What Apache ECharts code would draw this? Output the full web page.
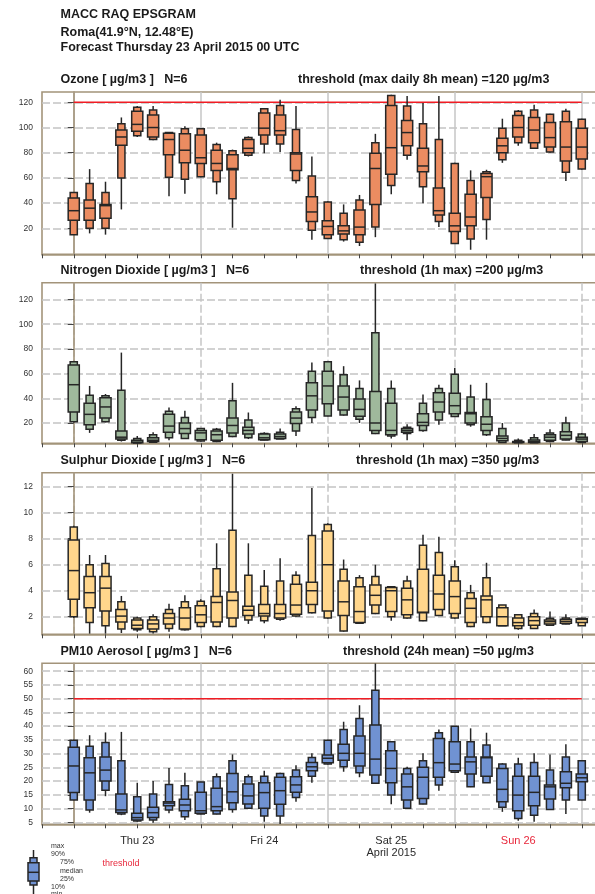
<!DOCTYPE html>
<html><head><meta charset="utf-8">
<script src="https://cdn.jsdelivr.net/npm/echarts@6/dist/echarts.min.js"></script>
<style>html,body{margin:0;padding:0;background:#fff}#c{width:595px;height:894px}</style>
</head><body><div id="c"></div><script>
// hours since Thursday 23 April 2015 00 UTC
const hours = [0,3,6,9,12,15,18,21,24,27,30,33,36,39,42,45,48,51,54,57,60,63,66,69,72,75,78,81,84,87,90,93,96];
// each row: [min, p10, p25, median, p75, p90, max]
const ozone = [
[15,15,26.5,34,44,48.5,48.5],[16,20,26.5,36,42.5,55.5,67],[15,20,28,38,39,48.5,57],[35,60,86,92.5,98,103,108],
[92.5,93.5,97,102.5,113,116,117],[90,90.5,92.5,100,110,114,117],[45.5,60.5,78.5,90.5,95.5,96,96.5],[47.5,59,72,82,95,99,101],
[60.5,61,71.5,76,94,99,99.5],[47,57,66,71.5,82,86.5,88],[20.5,43.5,66.5,67.5,78.5,81.5,82.5],[77,78,80,83.5,90.5,92,93],
[79.5,87,94,99.5,111.5,115,115.5],[80.5,87,94,97.5,110,117.5,122],[55.5,58,66,79,80,98.5,117],[11,18.5,25.5,33,45,61.5,77],
[11.5,12,15,21.5,26,41,41.5],[9.5,11,15.5,18,22,32,39],[6,9,15,21,34.5,42.5,46.5],[13,21,39,67.5,79.5,88,95],
[47,54,63,84,117.5,125.5,126],[74.5,78,85.5,96,105.5,117,125],[40,53,65,69.5,83.5,103,119.5],[21,25.5,30.5,34,52,90.5,125],
[7.5,8,17.5,22,32,71.5,72],[3,11.5,22,29,47,58,66],[11,27,44.5,61,63.5,65,66.5],[72,74.5,80,85.5,91.5,99.5,107],
[85.5,88,92.5,100,109.5,113,114],[83,83.5,88,98,108,114,118],[80,80.5,84.5,92,104,110.5,111],[57.5,64.5,73.5,84.5,104.5,113,115],
[66.5,67,75,84.5,99.5,106.5,107]];
const no2 = [
[20.5,21,29,51,67,69.5,70],[12,15,18.5,27,36,42.5,50],[20.5,21,24,33,40.5,42,43.5],[5,6,7,8.5,13.5,46.5,77],
[3.5,3.8,4,4.5,6,7.5,9.5],[4,4.5,5,6,8,10.5,12.5],[6,8,12.5,17.5,27,29.5,32.5],[7,7.5,11.5,15.5,20,24.5,30],
[5,5.5,6.5,12,14,15.5,16],[4.5,5,6,10.5,13.5,15,16],[8.5,9,12,18,24,38,52.5],[7,8,11,14,16.5,22.5,28.5],
[6,6.2,6.5,8,11,11.5,12.5],[7,7,7.5,9,11,12.5,15.5],[9.5,13.5,19.5,24,29,31.5,33.5],[20,24.5,30.5,42,52.5,62,69],
[25.5,25.7,35.5,50,62,69.5,70],[26,26.5,30.5,41,50,59,66],[20,23,25.5,31,39.5,48,54.5],[11,11.5,14,20,45.5,93,133],
[7.5,9.5,10.5,14,36,48,54.5],[6,11.5,12.5,14,15.5,16.5,19],[13,14,18,20.5,27.5,36,43],[18.5,22.5,29,37,44.5,48,51],
[25,25.2,27.5,34,44,59.5,64.5],[17,18.5,20,27.5,28.5,41,51],[9.5,10.5,14,19,25,39,52.5],[4,4.2,5.7,7.5,9.5,15.5,20],
[3.8,4,4.2,4.5,5,6,7.5],[3.8,4,4.2,5,6.2,8,11],[4.5,5,6,8.5,10.5,12,15],[6,6.2,7,10,13,20,25],
[4,4.2,5,7,8.5,11,12]];
const so2 = [
[1.9,2,3.35,5.55,7.9,8.9,9],[0.7,1.55,2.7,3.85,5.1,6,6.75],[0.7,1.3,2.45,4.2,5.1,6.1,6.75],[0.75,1.05,1.6,2.05,2.55,3.15,3.6],
[0.85,1,1.1,1.35,1.75,1.9,2],[0.72,0.85,1.05,1.45,1.75,2,2.2],[0.85,1.1,1.45,1.9,2.25,2.55,3],[0.95,1,1.05,1.9,2.7,3.15,3.65],
[1.2,1.25,1.55,2.15,2.85,3.2,3.35],[1.2,1.25,1.6,3.1,3.55,5.7,7.65],[1.2,1.25,1.9,3.25,3.9,8.65,13],[1.45,1.75,2.1,2.5,2.8,5.2,7.65],
[1.5,1.7,2.05,2.25,2.95,4.35,5.6],[1.7,1.8,1.9,2.25,2.95,4.75,6.5],[2,2.05,2.2,2.9,4.5,5.2,5.5],[2.25,2.3,2.95,4,4.65,8.25,11.9],
[1.85,1.9,2.45,6,8.6,9.1,9.2],[0.85,0.9,2.1,3.15,4.75,5.65,6.4],[1.45,1.5,1.55,2.4,4.3,5,5.2],[2.2,2.25,2.9,3.65,4.45,5.1,6],
[1.7,2,2.4,4,4.25,4.3,4.3],[1.85,1.9,2.15,3.3,4.2,4.75,5.15],[1.65,1.7,2.3,2.35,5.65,7.5,8.3],[2.05,2.1,2.55,3.75,5.2,6.95,8.15],
[1.85,1.9,2.25,3.55,4.75,5.85,6.35],[1.2,1.25,1.55,2.65,3.4,3.85,4.45],[1.5,1.55,2,3.3,3.6,5,6.15],[1.3,1.3,1.3,2,2.7,2.9,2.9],
[1,1.1,1.3,1.55,1.9,2.15,2.2],[1.05,1.1,1.35,1.7,2,2.25,2.55],[1.3,1.35,1.45,1.62,1.75,1.88,2.4],[1.42,1.45,1.5,1.65,1.8,1.9,2.2],
[1.3,1.3,1.55,1.8,1.85,1.88,1.92]];
const pm10 = [
[13,13.1,15.8,25.5,32.3,34.9,35],[8.5,9.5,13.1,23,28.5,32.7,36.7],[14.5,16.7,20,24,28.8,34,37.7],[7.6,8,8.6,9.5,15.3,27.4,37.9],
[5.2,5.5,5.8,6.7,8.3,14.3,19.4],[4.8,5.8,6.7,8.5,10.5,15.3,20],[8.3,9.5,11,12,12.5,18.8,24.8],[5.8,7,9.2,11.3,13.4,18.3,23],
[7.9,8,8.3,9.2,15.9,19.7,19.8],[7.9,8,9.2,10.7,17.4,21.6,22.8],[8.5,9.7,12.1,16.1,22.8,27.4,29.7],[10,10.1,11.7,14.6,18.9,21.6,22.4],
[5.2,7.3,10.1,15.8,19.4,21.8,23.8],[4.4,7.3,11.6,16.5,21.4,22.8,23],[12.5,14,15.9,18.6,21.6,24,25.8],[19.4,21.8,23.8,25.2,26.8,28.6,30.1],
[26,26.2,26.7,28.3,29.5,34.9,35],[23.4,25.2,27.6,30.1,33.4,38.8,41.6],[21.4,23,25.5,30.1,36.4,42.8,47.6],[19,19.2,22.2,28,40.4,53.1,62.8],
[11.6,14.9,19.4,24.6,31,34.3,34.5],[10,10.1,13.1,17.9,22.6,24.6,25.2],[11.6,11.7,13.7,21.4,25,27.4,30.1],[16.5,18.6,21.4,26.7,35.5,37.6,38.8],
[23,23.2,23.8,26.2,34.3,40,40],[17.8,17.9,22.6,27,28.8,34.3,39.2],[19.3,19.4,21.8,28.5,28.8,33.1,37.6],[8.8,10.5,12.5,17,24.6,26.2,26.5],
[5.6,6.4,9.2,14.9,21.8,26.2,28.5],[5.2,7.6,11,15.9,21.8,26.8,30.1],[9.6,9.7,13.5,17.9,18.6,24,29.7],[8,13.1,17.6,19.2,23.4,28.8,33.4],
[13,13.1,19.8,21.2,22.6,27.4,27.5]];
const ozoneTicks = [20,40,60,80,100,120];
const no2Ticks = [20,40,60,80,100,120];
const so2Ticks = [2,4,6,8,10,12];
const pm10Ticks = [5,10,15,20,25,30,35,40,45,50,55,60];
const dayLineHours = [0,24,48,72,96];
const dayLabelHours = [12,36,60,84];
const dayLabels = ['Thu 23','Fri 24','Sat 25','Sun 26'];
const monthLabel = 'April 2015';
const ozoneThreshold = 120;
const pm10Threshold = 50;
const thresholdSpan = [0,96];

const FONT = '"Liberation Sans", Arial, sans-serif';
const FRAME = '#a3947a';
const panels = [
  {data: ozone, ticks: ozoneTicks, color:'#eb8c61', top:92, height:162.3, min:-0.6, max:128.2, thr: ozoneThreshold, dashedDay:false,
   title:'Ozone [ \u00b5g/m3 ]   N=6', thrText:'threshold (max daily 8h mean) =120 \u00b5g/m3', ty:80, thx:298},
  {data: no2, ticks: no2Ticks, color:'#9fb99c', top:282.7, height:160.6, min:3.56, max:133.6, thr:null, dashedDay:true,
   title:'Nitrogen Dioxide [ \u00b5g/m3 ]   N=6', thrText:'threshold (1h max) =200 \u00b5g/m3', ty:271, thx:360},
  {data: so2, ticks: so2Ticks, color:'#ffd68c', top:472.7, height:161.6, min:0.65, max:13.08, thr:null, dashedDay:true,
   title:'Sulphur Dioxide [ \u00b5g/m3 ]   N=6', thrText:'threshold (1h max) =350 \u00b5g/m3', ty:461, thx:356},
  {data: pm10, ticks: pm10Ticks, color:'#7092d2', top:663.3, height:161, min:4.27, max:62.87, thr: pm10Threshold, dashedDay:false,
   title:'PM10 Aerosol [ \u00b5g/m3 ]   N=6', thrText:'threshold (24h mean) =50 \u00b5g/m3', ty:652, thx:343}
];

function renderBox(color){
  return function(params, api){
    const t = api.value(0);
    const y = v => api.coord([t, v])[1];
    const x = api.coord([t, api.value(1)])[0];
    const step = api.size([3, 0])[0];
    const wW = step*0.7, wN = step*0.45;
    const mn=api.value(1), p10=api.value(2), p25=api.value(3), med=api.value(4), p75=api.value(5), p90=api.value(6), mx=api.value(7);
    const st = {stroke:'#262626', lineWidth:1.5};
    return {type:'group', children:[
      {type:'line', shape:{x1:x,y1:y(mn),x2:x,y2:y(mx)}, style:st},
      {type:'rect', shape:{x:x-wN/2,y:y(p90),width:wN,height:y(p10)-y(p90)}, style:Object.assign({fill:color},st)},
      {type:'rect', shape:{x:x-wW/2,y:y(p75),width:wW,height:y(p25)-y(p75)}, style:Object.assign({fill:color},st)},
      {type:'line', shape:{x1:x-wW/2,y1:y(med),x2:x+wW/2,y2:y(med)}, style:st}
    ]};
  };
}

const grid=[], xAxis=[], yAxis=[], series=[], graphic=[];
panels.forEach((p,i)=>{
  grid.push({left:42, width:571.5, top:p.top, height:p.height, show:true, borderColor:FRAME, borderWidth:1.6,
    backgroundColor:'transparent', containLabel:false, outerBoundsMode:'none'});
  xAxis.push({gridIndex:i, type:'value', min:-6, max:102, interval:6, position:'bottom',
    axisLine:{show:true, onZero:false, lineStyle:{color:FRAME, width:1.6}},
    axisTick:{show:true, inside:false, length:4, lineStyle:{color:'#444', width:1}},
    axisLabel:{show:false}, splitLine:{show:false}});
  xAxis.push({gridIndex:i, type:'value', min:-6, max:102, position:'bottom',
    axisLine:{show:false, onZero:false},
    axisTick:{show:false, customValues: dayLineHours},
    axisLabel: i===3 ? {show:true, customValues: dayLabelHours, margin:11, fontFamily:FONT, fontSize:11, color:'#2a2a2a', lineHeight:12,
      formatter: v => { const k = dayLabelHours.indexOf(v); if (k<0) return ''; if (k===3) return '{r|'+dayLabels[k]+'}'; if (k===2) return dayLabels[k]+'\n'+monthLabel; return dayLabels[k]; },
      rich:{r:{color:'#e8283c', fontFamily:FONT, fontSize:11}}} : {show:false},
    splitLine:{show:true, lineStyle:{color:'#c6c6c6', width:1.5, type: p.dashedDay ? [8,3] : 'solid'}}});
  yAxis.push({gridIndex:i, type:'value', min:p.min, max:p.max,
    axisLine:{show:true, lineStyle:{color:FRAME, width:1.6}},
    axisTick:{show:true, inside:false, length:6, customValues:p.ticks, lineStyle:{color:'#444', width:1}},
    axisLabel:{show:true, customValues:p.ticks, margin:9, fontFamily:FONT, fontSize:8.5, color:'#333'},
    splitLine:{show:true, lineStyle:{color:'#c4c4c4', width:1.5, type:[8,3]}}});
  if (p.thr !== null) {
    series.push({type:'line', xAxisIndex:2*i, yAxisIndex:i, silent:true, symbol:'none', z:1,
      data: thresholdSpan.map(h=>[h, p.thr]), lineStyle:{color:'#f01c24', width:1.5}});
  }
  series.push({type:'custom', xAxisIndex:2*i, yAxisIndex:i, z:2, silent:true,
    renderItem: renderBox(p.color), encode:{x:0, y:[1,2,3,4,5,6,7]},
    data: hours.map((h,k)=>[h].concat(p.data[k]))});
  graphic.push({type:'text', style:{text:p.title, x:60.5, y:p.ty, font:'bold 12.5px '+FONT, fill:'#1a1a1a', verticalAlign:'middle'}});
  graphic.push({type:'text', style:{text:p.thrText, x:p.thx, y:p.ty, font:'bold 12.5px '+FONT, fill:'#1a1a1a', verticalAlign:'middle'}});
});
['MACC RAQ EPSGRAM','Roma(41.9\u00b0N, 12.48\u00b0E)','Forecast Thursday 23 April 2015 00 UTC'].forEach((t,k)=>{
  graphic.push({type:'text', style:{text:t, x:60.5, y:[15,33,48][k], font:'bold 12.5px '+FONT, fill:'#1a1a1a', verticalAlign:'middle'}});
});
// legend glyph
const lg = {stroke:'#262626', lineWidth:1.5};
graphic.push({type:'line', shape:{x1:33.5,y1:850,x2:33.5,y2:896}, style:lg});
graphic.push({type:'rect', shape:{x:30,y:857.7,width:7,height:27.3}, style:Object.assign({fill:'#7092d2'},lg)});
graphic.push({type:'rect', shape:{x:28,y:862.7,width:11,height:18.3}, style:Object.assign({fill:'#7092d2'},lg)});
graphic.push({type:'line', shape:{x1:28,y1:872.3,x2:39,y2:872.3}, style:lg});
[['max',51,846],['90%',51,854],['75%',60,862],['median',60,871],['25%',60,879],['10%',51,887],['min',51,894]].forEach(a=>{
  graphic.push({type:'text', style:{text:a[0], x:a[1], y:a[2], font:'7px '+FONT, fill:'#333', verticalAlign:'middle'}});
});
graphic.push({type:'text', style:{text:'threshold', x:102.5, y:864, font:'9px '+FONT, fill:'#e8283c', verticalAlign:'middle'}});

const chart = echarts.init(document.getElementById('c'), null, {renderer:'canvas'});
chart.setOption({backgroundColor:'#fff', animation:false, grid, xAxis, yAxis, series, graphic});
</script></body></html>
